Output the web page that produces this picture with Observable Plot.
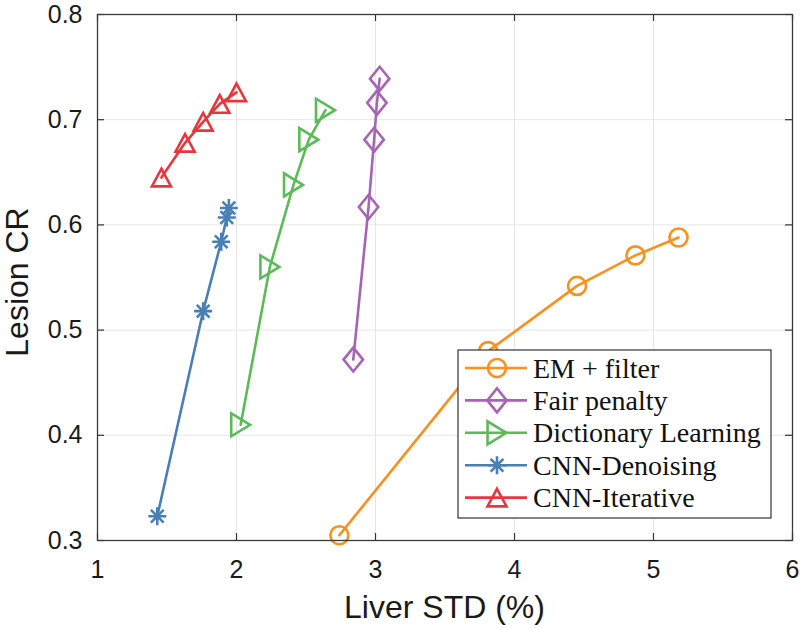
<!DOCTYPE html>
<html>
<head>
<meta charset="utf-8">
<script src="https://cdn.jsdelivr.net/npm/d3@7"></script>
<script src="https://cdn.jsdelivr.net/npm/@observablehq/plot@0.6"></script>
<style>
  html, body { margin: 0; padding: 0; background: #fff; }
  #chart { width: 800px; height: 629px; }
</style>
</head>
<body>
<div id="chart"></div>
<script>
// ---- data ----
const seriesNames = ["EM + filter", "Fair penalty", "Dictionary Learning", "CNN-Denoising", "CNN-Iterative"];
const seriesColors = ["#f9901f", "#a665b4", "#5cba58", "#4a7fb4", "#e6383c"];

const emX = [2.74, 3.81, 4.45, 4.87, 5.18];
const emY = [0.305, 0.480, 0.542, 0.571, 0.588];

const fairX = [2.84, 2.95, 2.99, 3.01, 3.03];
const fairY = [0.472, 0.617, 0.681, 0.716, 0.739];

const dictX = [2.03, 2.24, 2.41, 2.52, 2.64];
const dictY = [0.410, 0.560, 0.638, 0.681, 0.709];

const dnX = [1.43, 1.76, 1.89, 1.93, 1.945];
const dnY = [0.323, 0.518, 0.584, 0.607, 0.616];

const itX = [1.46, 1.63, 1.76, 1.88, 2.00];
const itY = [0.645, 0.678, 0.698, 0.715, 0.726];

const xTicks = [1, 2, 3, 4, 5, 6];
const yTicks = [0.3, 0.4, 0.5, 0.6, 0.7, 0.8];
const xLabel = "Liver STD (%)";
const yLabel = "Lesion CR";

// ---- custom MATLAB-like marker symbols ----
function sym(fn) { return { draw(ctx, size) { const r = Math.sqrt(size / Math.PI); fn(ctx, r); } }; }
const symCircle = sym((c, r) => { c.moveTo(r, 0); c.arc(0, 0, r, 0, 2 * Math.PI); c.closePath(); });
const symDiamond = sym((c, r) => { c.moveTo(0, -1.33 * r); c.lineTo(1.08 * r, 0); c.lineTo(0, 1.33 * r); c.lineTo(-1.08 * r, 0); c.closePath(); });
const symTriRight = sym((c, r) => { c.moveTo(1.05 * r, 0); c.lineTo(-1.05 * r, -1.28 * r); c.lineTo(-1.05 * r, 1.28 * r); c.closePath(); });
const symAsterisk = sym((c, r) => {
  for (let k = 0; k < 4; k++) {
    const a = k * Math.PI / 4;
    c.moveTo(-r * Math.cos(a), -r * Math.sin(a));
    c.lineTo(r * Math.cos(a), r * Math.sin(a));
  }
});
const symTriUp = sym((c, r) => { c.moveTo(0, -0.98 * r); c.lineTo(1.06 * r, 0.98 * r); c.lineTo(-1.06 * r, 0.98 * r); c.closePath(); });
const seriesSymbols = [symCircle, symDiamond, symTriRight, symAsterisk, symTriUp];

const seriesXs = [emX, fairX, dictX, dnX, itX];
const seriesYs = [emY, fairY, dictY, dnY, itY];

const rows = seriesNames.map((name, i) =>
  seriesXs[i].map((x, j) => ({ series: name, x, y: seriesYs[i][j] })));

// ---- layout ----
const W = 800, H = 629;
const mL = 97, mR = 8, mT = 14, mB = 89;
const frameW = W - mL - mR, frameH = H - mT - mB;
const tickLen = 7;
const lineW = 2.6;
const markR = 9;

const marks = [
  Plot.gridX(xTicks, { stroke: "#e6e6e6", strokeOpacity: 1, strokeWidth: 1 }),
  Plot.gridY(yTicks, { stroke: "#e6e6e6", strokeOpacity: 1, strokeWidth: 1 }),
];
rows.forEach((data, i) => {
  marks.push(Plot.line(data, { x: "x", y: "y", stroke: seriesColors[i], strokeWidth: lineW }));
  marks.push(Plot.dot(data, { x: "x", y: "y", stroke: seriesColors[i], fill: "none", strokeWidth: lineW, r: markR, symbol: seriesSymbols[i] }));
});
marks.push(
  // inward ticks on all four sides (MATLAB box style)
  Plot.ruleX(xTicks, { x: d => d, insetTop: frameH - tickLen, stroke: "#333", strokeWidth: 1.2 }),
  Plot.ruleX(xTicks, { x: d => d, insetBottom: frameH - tickLen, stroke: "#333", strokeWidth: 1.2 }),
  Plot.ruleY(yTicks, { y: d => d, insetRight: frameW - tickLen, stroke: "#333", strokeWidth: 1.2 }),
  Plot.ruleY(yTicks, { y: d => d, insetLeft: frameW - tickLen, stroke: "#333", strokeWidth: 1.2 }),
  Plot.frame({ stroke: "#3a3a3a", strokeWidth: 1.3 }),
  Plot.axisX(xTicks, { tickSize: 0, tickPadding: 20, fontSize: 25, label: null, tickFormat: d => String(d), fill: "#1a1a1a" }),
  Plot.axisY(yTicks, { tickSize: 0, tickPadding: 15, fontSize: 25, label: null, tickFormat: d => d.toFixed(1), fill: "#1a1a1a" })
);

const chart = Plot.plot({
  width: W, height: H,
  marginLeft: mL, marginRight: mR, marginTop: mT, marginBottom: mB,
  style: { fontFamily: "'Liberation Sans', Arial, Helvetica, sans-serif", background: "#fff", overflow: "visible" },
  x: { domain: [1, 6], ticks: xTicks },
  y: { domain: [0.3, 0.8], ticks: yTicks },
  marks
});
document.getElementById("chart").appendChild(chart);

const svg = d3.select(chart);

// ---- axis titles ----
svg.append("text")
  .attr("x", mL + frameW / 2).attr("y", H - 11)
  .attr("text-anchor", "middle").attr("font-size", 32).attr("fill", "#1a1a1a")
  .attr("font-family", "'Liberation Sans', Arial, Helvetica, sans-serif")
  .text(xLabel);
svg.append("text")
  .attr("transform", `translate(28,${mT + frameH / 2 + 5}) rotate(-90)`)
  .attr("text-anchor", "middle").attr("font-size", 32).attr("fill", "#1a1a1a")
  .attr("font-family", "'Liberation Sans', Arial, Helvetica, sans-serif")
  .text(yLabel);

// ---- legend (inside the frame, lower right, MATLAB style) ----
const boxW = 313, boxH = 168;
const boxX = mL + frameW - 21 - boxW;
const boxY = mT + frameH - 22 - boxH;
const lg = svg.append("g").attr("transform", `translate(${boxX},${boxY})`);
lg.append("rect").attr("width", boxW).attr("height", boxH)
  .attr("fill", "#fff").attr("stroke", "#333").attr("stroke-width", 1.2);
const rowStep = 32.4, row0 = 18;
seriesNames.forEach((name, i) => {
  const cy = row0 + i * rowStep;
  const g = lg.append("g").attr("transform", `translate(0,${cy})`);
  g.append("line").attr("x1", 7).attr("x2", 69).attr("y1", 0).attr("y2", 0)
    .attr("stroke", seriesColors[i]).attr("stroke-width", lineW);
  g.append("path").attr("transform", "translate(39,0)")
    .attr("d", d3.symbol(seriesSymbols[i], markR * markR * Math.PI)())
    .attr("fill", "none").attr("stroke", seriesColors[i]).attr("stroke-width", lineW);
  g.append("text").attr("x", 75).attr("y", 0).attr("dy", "0.34em")
    .attr("text-anchor", "start")
    .attr("font-family", "'Liberation Serif', 'Times New Roman', serif")
    .attr("font-size", 28).attr("fill", "#111").text(name);
});
</script>
</body>
</html>
